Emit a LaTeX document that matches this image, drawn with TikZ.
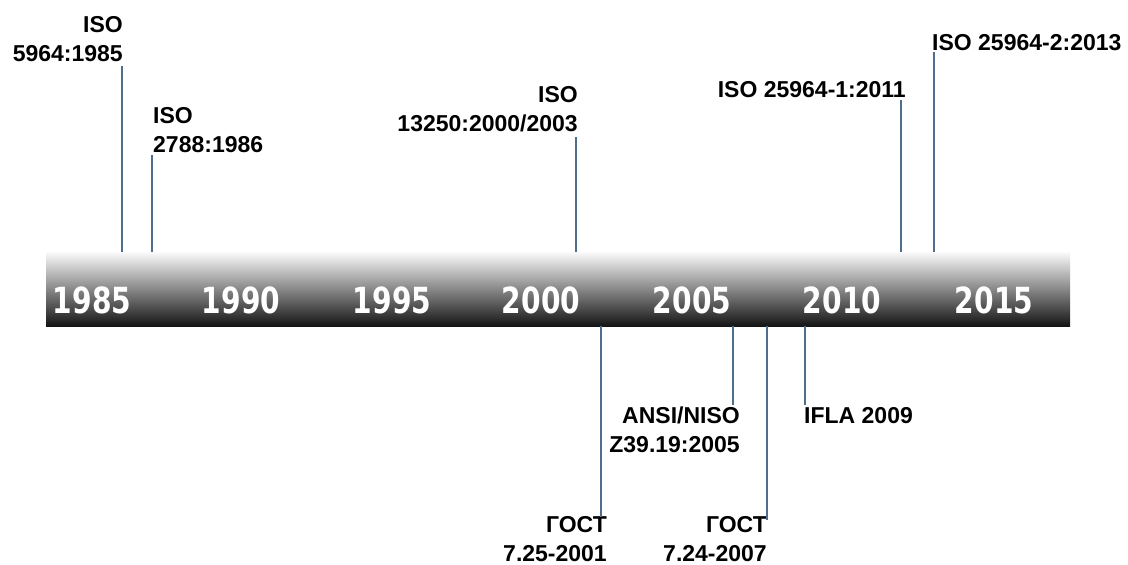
\documentclass[tikz,border=0pt]{standalone}
\usepackage{fontspec}
\setmainfont{Liberation Sans}
\newfontfamily\yearfont{DejaVu Sans}
\definecolor{linecol}{HTML}{4F6E8E}
\begin{document}
\begin{tikzpicture}[x=1pt,y=-1pt,
  lbl/.style={inner sep=0pt,font=\fontsize{23}{29}\selectfont\bfseries,text=black},
  lblr/.style={lbl,align=right},
  lbll/.style={lbl,align=left},
  yr/.style={inner sep=0pt,anchor=base,text=white,font=\fontsize{36}{40}\selectfont\yearfont\bfseries},
  conn/.style={draw=linecol,line width=1.5pt}]
\useasboundingbox (0,0) rectangle (1128,565);
% bar
\node[inner sep=0pt,anchor=north west,minimum width=1024pt,minimum height=74pt,
  top color=gray!4,middle color=gray!55,bottom color=black!92,shading angle=0] (bar) at (46,252) {};
% years
\foreach \x/\y in {92/1985,241/1990,392/1995,541/2000,692/2005,842/2010,994/2015}
  \node[yr] (y\y) at (\x,313) {\scalebox{0.78}[1]{\y}};
% labels above
\node[lblr,anchor=north east] (a1) at (123,16) {ISO\\5964:1985};
\node[lbll,anchor=north west] (a2) at (153,107) {ISO\\2788:1986};
\node[lblr,anchor=north east] (a3) at (578,86) {ISO\\13250:2000/2003};
\node[lbl,anchor=north east] (a4) at (906,81.5) {ISO 25964-1:2011};
\node[lbl,anchor=north west] (a5) at (932,34.5) {ISO 25964-2:2013};
% labels below
\node[lblr,anchor=north east] (b1) at (607,516) {ГОСТ\\7.25-2001};
\node[lblr,anchor=north east] (b2) at (740,407) {ANSI/NISO\\Z39.19:2005};
\node[lblr,anchor=north east] (b3) at (767,516) {ГОСТ\\7.24-2007};
\node[lbll,anchor=north west] (b4) at (804,407) {IFLA 2009};
% connector end points
\coordinate (e1) at (122,66);  \coordinate (s1) at (122,252);
\coordinate (e2) at (152,155); \coordinate (s2) at (152,252);
\coordinate (e3) at (576,137); \coordinate (s3) at (576,252);
\coordinate (e4) at (901,100); \coordinate (s4) at (901,252);
\coordinate (e5) at (934,52);  \coordinate (s5) at (934,252);
\coordinate (f1) at (601,517); \coordinate (g1) at (601,326);
\coordinate (f2) at (733,405); \coordinate (g2) at (733,326);
\coordinate (f3) at (767,520); \coordinate (g3) at (767,326);
\coordinate (f4) at (805,405); \coordinate (g4) at (805,326);
\foreach \a/\b in {e1/s1,e2/s2,e3/s3,e4/s4,e5/s5,g1/f1,g2/f2,g3/f3,g4/f4}
  \draw[conn] (\a) -- (\b);
\end{tikzpicture}
\end{document}
